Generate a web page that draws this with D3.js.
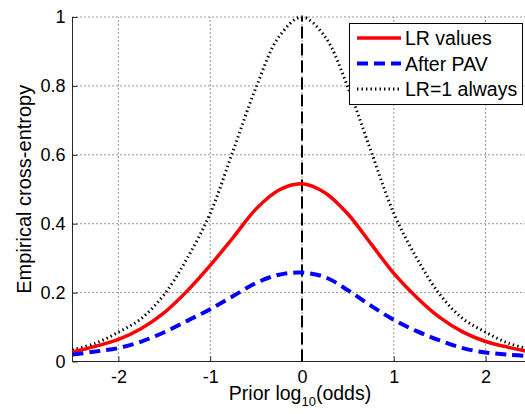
<!DOCTYPE html>
<html>
<head>
<meta charset="utf-8">
<script src="https://cdn.jsdelivr.net/npm/d3@7"></script>
<style>
  html, body { margin: 0; padding: 0; background: #fff; }
  svg { display: block; font-family: "Liberation Sans", Arial, sans-serif; }
</style>
</head>
<body>
<svg id="chart" width="525" height="414"></svg>
<script>
// ---- data ----
const priorLogOdds = [-2.5, -2.25, -2, -1.75, -1.5, -1.25, -1, -0.75, -0.5, -0.25, 0,
                      0.25, 0.5, 0.75, 1, 1.25, 1.5, 1.75, 2, 2.25, 2.5];
const lrValues   = [0.028, 0.044, 0.064, 0.096, 0.142, 0.205, 0.279, 0.360, 0.443, 0.498, 0.516,
                    0.490, 0.428, 0.342, 0.256, 0.186, 0.128, 0.086, 0.058, 0.041, 0.027];
const afterPAV   = [0.020, 0.029, 0.039, 0.058, 0.085, 0.118, 0.152, 0.190, 0.228, 0.252, 0.258,
                    0.245, 0.207, 0.162, 0.121, 0.088, 0.061, 0.039, 0.026, 0.020, 0.015];
const lrOneAlways = [0.034, 0.053, 0.085, 0.125, 0.195, 0.300, 0.430, 0.612, 0.796, 0.943, 1.000,
                     0.943, 0.796, 0.612, 0.430, 0.300, 0.195, 0.125, 0.085, 0.053, 0.034];
const xTicks = [-2, -1, 0, 1, 2];
const xTickLabels = ["-2", "-1", "0", "1", "2"];
const yTicks = [0, 0.2, 0.4, 0.6, 0.8, 1];
const yTickLabels = ["0", "0.2", "0.4", "0.6", "0.8", "1"];
const legendLabels = ["LR values", "After PAV", "LR=1 always"];

// ---- layout ----
const svg = d3.select("#chart");
const x = d3.scaleLinear().domain([-2.5, 2.5]).range([72.5, 531.5]);
const y = d3.scaleLinear().domain([0, 1]).range([361.5, 17]);
const axisColor = "#262626";

// grid
const grid = svg.append("g");
xTicks.forEach(t => {
  grid.append("line").attr("x1", x(t)).attr("x2", x(t)).attr("y1", y(0)).attr("y2", y(1))
    .attr("stroke", "#333").attr("stroke-width", 1).attr("stroke-dasharray", "1,3");
});
yTicks.forEach(t => {
  grid.append("line").attr("x1", x(-2.5)).attr("x2", x(2.5)).attr("y1", y(t)).attr("y2", y(t))
    .attr("stroke", "#333").attr("stroke-width", 1).attr("stroke-dasharray", "1,3");
});

// axes (inward ticks)
const xAxis = d3.axisBottom(x).tickValues(xTicks).tickSize(0).tickPadding(0)
  .tickFormat((d, i) => xTickLabels[i]);
const gx = svg.append("g").attr("transform", `translate(0,${y(0)})`).call(xAxis);
gx.select(".domain").remove();
gx.selectAll(".tick text").attr("font-size", 18).attr("fill", "#000").attr("dy", null).attr("y", 21);
gx.selectAll(".tick").append("line").attr("y1", 0).attr("y2", -5).attr("stroke", axisColor);

const yAxis = d3.axisLeft(y).tickValues(yTicks).tickSize(0).tickPadding(0)
  .tickFormat((d, i) => yTickLabels[i]);
const gy = svg.append("g").attr("transform", `translate(${x(-2.5)},0)`).call(yAxis);
gy.select(".domain").remove();
gy.selectAll(".tick text").attr("font-size", 18).attr("fill", "#000").attr("x", -7);
gy.selectAll(".tick").append("line").attr("x1", 0).attr("x2", 5).attr("stroke", axisColor);

svg.append("line").attr("x1", x(-2.5)).attr("x2", x(2.5)).attr("y1", y(0)).attr("y2", y(0))
  .attr("stroke", axisColor).attr("stroke-width", 1);
svg.append("line").attr("x1", x(-2.5)).attr("x2", x(-2.5)).attr("y1", y(0)).attr("y2", y(1))
  .attr("stroke", axisColor).attr("stroke-width", 1);

// vertical dashed line at 0
svg.append("line").attr("x1", x(0)).attr("x2", x(0)).attr("y1", y(0)).attr("y2", y(1))
  .attr("stroke", "#000").attr("stroke-width", 2).attr("stroke-dasharray", "12,5");

// curves
const line = d3.line().x((d, i) => x(priorLogOdds[i])).y(d => y(d)).curve(d3.curveCatmullRom.alpha(0.5));
svg.append("path").attr("d", line(lrOneAlways)).attr("fill", "none")
  .attr("stroke", "#000").attr("stroke-width", 3).attr("stroke-dasharray", "1.4,3.1");
svg.append("path").attr("d", line(lrValues)).attr("fill", "none")
  .attr("stroke", "#ff0000").attr("stroke-width", 3.5);
svg.append("path").attr("d", line(afterPAV)).attr("fill", "none")
  .attr("stroke", "#0000ff").attr("stroke-width", 4).attr("stroke-dasharray", "11,6");

// legend
const lg = svg.append("g");
lg.append("rect").attr("x", 349.5).attr("y", 23.5).attr("width", 173).attr("height", 81)
  .attr("fill", "#fff").attr("stroke", "#000").attr("stroke-width", 1);
const styles = [
  {stroke: "#ff0000", w: 3.5, dash: null},
  {stroke: "#0000ff", w: 4, dash: "11,6"},
  {stroke: "#000", w: 3, dash: "1.4,3.1"}
];
const rowY = [38, 63.5, 89];
legendLabels.forEach((lab, i) => {
  const l = lg.append("line").attr("x1", 357).attr("x2", 401).attr("y1", rowY[i]).attr("y2", rowY[i])
    .attr("stroke", styles[i].stroke).attr("stroke-width", styles[i].w);
  if (styles[i].dash) l.attr("stroke-dasharray", styles[i].dash);
  lg.append("text").attr("x", 405).attr("y", rowY[i] + 7).attr("font-size", 19.5).attr("fill", "#000").text(lab);
});

// axis labels
const xl = svg.append("text").attr("x", 300).attr("y", 400).attr("text-anchor", "middle")
  .attr("font-size", 19.5).attr("fill", "#000");
xl.append("tspan").text("Prior log");
xl.append("tspan").attr("font-size", 13).attr("dy", 6).text("10");
xl.append("tspan").attr("dy", -6).text("(odds)");

svg.append("text").attr("transform", `translate(31,${(y(0) + y(1)) / 2}) rotate(-90)`)
  .attr("text-anchor", "middle").attr("font-size", 20).attr("fill", "#000")
  .text("Empirical cross-entropy");
</script>
</body>
</html>
